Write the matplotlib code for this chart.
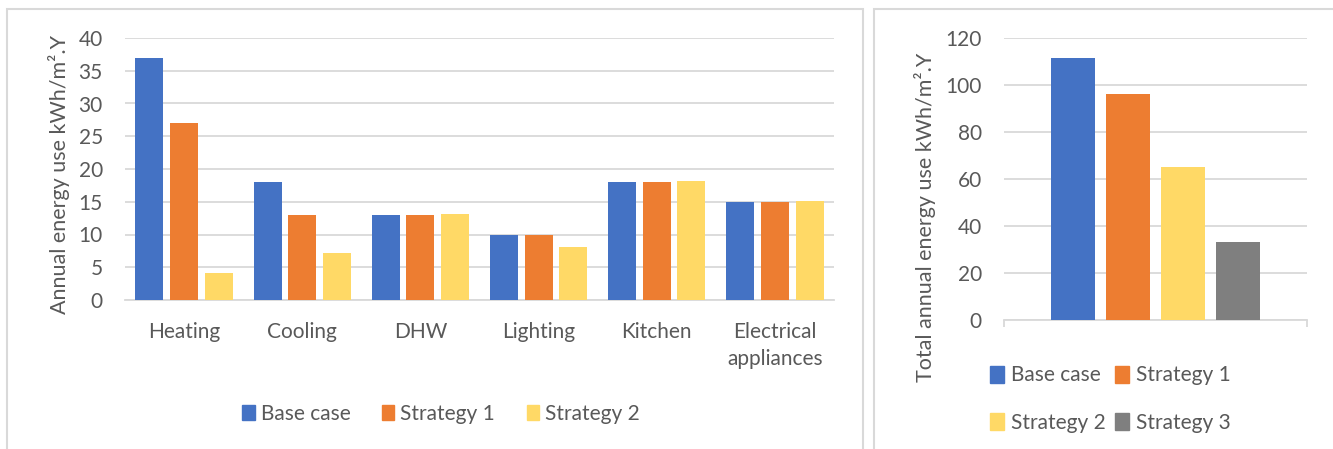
import matplotlib
matplotlib.use("Agg")
import matplotlib.pyplot as plt
from matplotlib.patches import Rectangle, Patch
import numpy as np

plt.rcParams['font.family'] = ['Lato', 'DejaVu Sans']

# ---- data ----
categories = ["Heating", "Cooling", "DHW", "Lighting", "Kitchen", "Electrical\nappliances"]
base_case = [37, 18, 13, 10, 18, 15]
strategy1 = [27, 13, 13, 10, 18, 15]
strategy2 = [4.1, 7.1, 13.1, 8.1, 18.1, 15.1]

total_labels = ["Base case", "Strategy 1", "Strategy 2", "Strategy 3"]
total_values = [111.2, 96, 65, 33]

left_ticks = [0, 5, 10, 15, 20, 25, 30, 35, 40]
right_ticks = [0, 20, 40, 60, 80, 100, 120]

colors = ["#4472C4", "#ED7D31", "#FFD966", "#7F7F7F"]
text_color = "#595959"
grid_color = "#D9D9D9"

W, H = 1333, 449
fig = plt.figure(figsize=(W / 100, H / 100), dpi=100)

def fx(px):
    return px / W

def fy(py):
    return 1 - py / H

# panel borders
fig.patches.append(Rectangle((fx(7.5), fy(455)), fx(862.5) - fx(7.5), fy(8.5) - fy(455),
                             transform=fig.transFigure, fill=False, edgecolor=grid_color, lw=1.5))
fig.patches.append(Rectangle((fx(874), fy(455)), fx(1345) - fx(874), fy(8.5) - fy(455),
                             transform=fig.transFigure, fill=False, edgecolor=grid_color, lw=1.5))

# ---- left chart ----
axL = fig.add_axes([fx(125), fy(300), fx(834) - fx(125), fy(38) - fy(300)])
x = np.arange(len(categories))
bw = 0.237
step = 0.293
series = [("Base case", base_case), ("Strategy 1", strategy1), ("Strategy 2", strategy2)]
for i, (lab, vals) in enumerate(series):
    axL.bar(x + (i - 1) * step, vals, width=bw, color=colors[i], label=lab, zorder=3)
axL.set_xlim(-0.5, len(categories) - 0.5)
axL.set_ylim(0, 40)
axL.set_yticks(left_ticks)
axL.set_xticks(x)
axL.yaxis.grid(True, color=grid_color, lw=1.3, zorder=0)
axL.set_axisbelow(True)
for s in ["top", "right", "left"]:
    axL.spines[s].set_visible(False)
axL.spines["bottom"].set_color(grid_color)
axL.spines["bottom"].set_linewidth(1.3)
axL.tick_params(axis="y", length=0, pad=16, labelsize=15, labelcolor=text_color)
axL.tick_params(axis="x", length=0, pad=16, labelsize=15, labelcolor=text_color)
axL.set_xticklabels(categories, linespacing=1.45, va="top")

fig.text(fx(59), fy(175), "Annual energy use kWh/m\u00b2.Y", rotation=90,
         ha="center", va="center", fontsize=15.5, color=text_color)

hL = [Patch(color=colors[i]) for i in range(3)]
fig.legend(hL, [s[0] for s in series], loc="center", bbox_to_anchor=(fx(441), fy(414)),
           ncol=3, frameon=False, fontsize=15, labelcolor=text_color,
           handlelength=0.6, handleheight=0.75, handletextpad=0.3, columnspacing=1.5)

# ---- right chart ----
axR = fig.add_axes([fx(1004), fy(320), fx(1307) - fx(1004), fy(37.7) - fy(320)])
nb = len(total_values)
rstep = 0.1815
rbw = 0.145
for i in range(nb):
    axR.bar((i - (nb - 1) / 2) * rstep, total_values[i], width=rbw, color=colors[i],
            label=total_labels[i], zorder=3)
axR.set_xlim(-0.5, 0.5)
axR.set_ylim(0, 120)
axR.set_yticks(right_ticks)
axR.set_xticks([-0.5, 0.5])
axR.set_xticklabels([])
axR.yaxis.grid(True, color=grid_color, lw=1.3, zorder=0)
axR.set_axisbelow(True)
for s in ["top", "right", "left"]:
    axR.spines[s].set_visible(False)
axR.spines["bottom"].set_color(grid_color)
axR.spines["bottom"].set_linewidth(1.3)
axR.tick_params(axis="y", length=0, pad=16, labelsize=15, labelcolor=text_color)
axR.tick_params(axis="x", length=5, width=1.3, color=grid_color, direction="out")

fig.text(fx(925), fy(217), "Total annual energy use kWh/m\u00b2.Y", rotation=90,
         ha="center", va="center", fontsize=15.5, color=text_color)

# legend filled row by row (matplotlib fills columns first)
order = [0, 2, 1, 3]
hR = [Patch(color=colors[i]) for i in order]
fig.legend(hR, [total_labels[i] for i in order], loc="center", bbox_to_anchor=(fx(1110), fy(399)),
           ncol=2, frameon=False, fontsize=15, labelcolor=text_color,
           handlelength=0.7, handleheight=0.9, handletextpad=0.3, columnspacing=0.45,
           labelspacing=1.3)

fig.savefig("out.png", dpi=100)
